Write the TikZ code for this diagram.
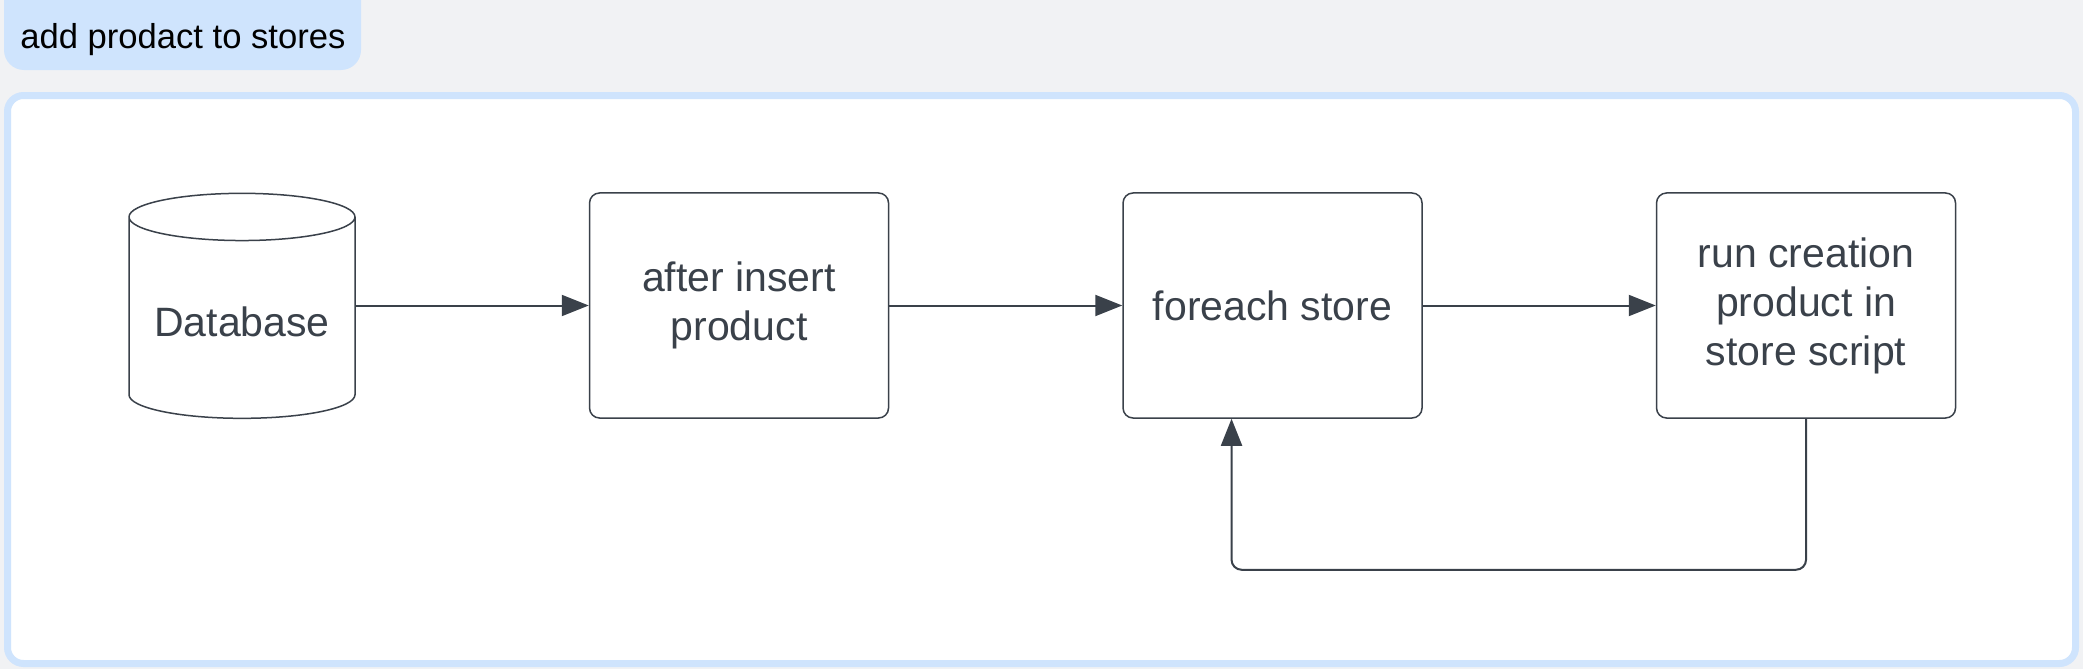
\documentclass[tikz,border=0pt]{standalone}
\usepackage{fontspec}
\setmainfont{Liberation Sans}
\usetikzlibrary{positioning, shapes.geometric, arrows.meta}
\definecolor{ink}{HTML}{3A414A}
\definecolor{paper}{HTML}{F1F2F4}
\definecolor{lane}{HTML}{CFE4FD}
\tikzset{
    block/.style={draw=ink, line width=0.75pt, rounded corners=5pt, fill=white, text=ink,
        minimum width=149.5pt, minimum height=112.5pt, align=center,
        font=\fontsize{20.5}{24.5}\selectfont}, % the process boxes
    store/.style={cylinder, shape border rotate=90, aspect=0.25, draw=ink, line width=0.75pt,
        fill=white, text=ink, minimum width=113pt, minimum height=112.5pt,
        font=\fontsize{20.5}{24.5}\selectfont}, % the database
    flow/.style={draw=ink, line width=1pt, -{Triangle[length=13.5pt, width=10.5pt]}}, % connectors
    node distance=116.5pt, % gap between the boxes
}
\begin{document}
\begin{tikzpicture}[x=0.5pt, y=-0.5pt]
    \useasboundingbox (0,0) rectangle (2083,669);
    \fill[paper] (0,0) rectangle (2083,669);
    \fill[lane, rounded corners=10pt] (4,-20) rectangle (361,70);
    \node[anchor=west, inner sep=0pt, font=\fontsize{17.3}{20}\selectfont] (title) at (20,40) {add prodact to stores};
    \draw[lane, line width=3.5pt, fill=white, rounded corners=8pt] (7.5,95.5) rectangle (2075.5,663.5);
    \node[store] (db) at (242,322) {Database};
    \node[block, right=of db, yshift=8.25pt] (insert) {after insert\\product};
    \node[block, right=of insert] (each) {foreach store};
    \node[block, right=of each] (run) {run creation\\product in\\store script};
    \draw[flow] (db.east |- insert.west) -- (insert.west);
    \draw[flow] (insert) -- (each);
    \draw[flow] (each) -- (run);
    \draw[flow, rounded corners=5pt] (run.south) -- ++(0,151) -| ([xshift=-20.5pt]each.south);
\end{tikzpicture}
\end{document}
